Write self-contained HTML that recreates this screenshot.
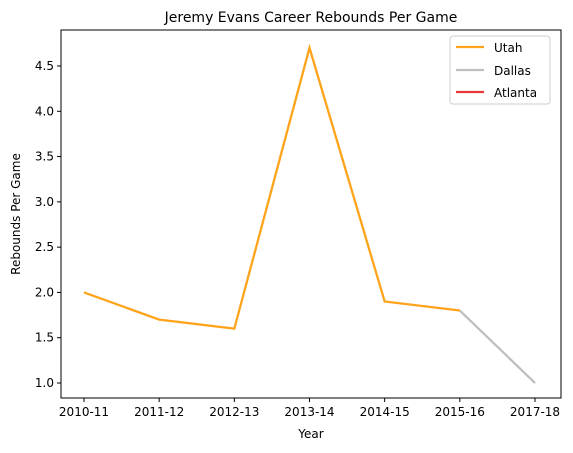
<!DOCTYPE html>
<html><head><meta charset="utf-8"><style>
body{margin:0;background:#fff;}
svg{display:block;font-family:"DejaVu Sans","Liberation Sans",sans-serif;}
</style></head><body>
<svg id="chart" width="573" height="453">
<text x="311" y="22" text-anchor="middle" font-size="14">Jeremy Evans Career Rebounds Per Game</text>
<text x="311" y="438" text-anchor="middle" font-size="12">Year</text>
<text transform="translate(20,214) rotate(-90)" text-anchor="middle" font-size="12">Rebounds Per Game</text>
<g id="ticks"></g>
<g id="lines"></g>
<rect x="61" y="30" width="500" height="368" fill="none" stroke="#000" stroke-width="1"/>
<g>
<rect x="450" y="36" width="100" height="68" rx="3" fill="#fff" stroke="#ccc"/>
<line x1="456" y1="47" x2="484" y2="47" stroke="#ffa31a" stroke-width="2.3"/>
<text x="494" y="52" font-size="12">Utah</text>
<line x1="456" y1="70" x2="484" y2="70" stroke="#bfbfbf" stroke-width="2.3"/>
<text x="494" y="75" font-size="12">Dallas</text>
<line x1="456" y1="92" x2="484" y2="92" stroke="#e8383d" stroke-width="2.3"/>
<text x="494" y="97" font-size="12">Atlanta</text>
</g>
</svg>
<script>
const years = ["2010-11","2011-12","2012-13","2013-14","2014-15","2015-16","2017-18"];
const utahValues = [2.0,1.7,1.6,4.7,1.9,1.8,null];
const dallasValues = [null,null,null,null,null,1.8,1.0];
const atlantaValues = [null,null,null,null,null,null,null];
const yTicks = [1.0,1.5,2.0,2.5,3.0,3.5,4.0,4.5];
const NS="http://www.w3.org/2000/svg";
function xs(i){return 84+i*(535-84)/(years.length-1);}
function ys(v){return 383-(v-1.0)*(383-66)/3.5;}
const tg=document.getElementById('ticks');
years.forEach((y,i)=>{
 const l=document.createElementNS(NS,'line');
 l.setAttribute('x1',xs(i));l.setAttribute('x2',xs(i));l.setAttribute('y1',398);l.setAttribute('y2',402);l.setAttribute('stroke','#000');
 
 
 tg.appendChild(l);
 const t=document.createElementNS(NS,'text');
 t.setAttribute('x',xs(i));t.setAttribute('y',416);t.setAttribute('text-anchor','middle');t.setAttribute('font-size','12');t.textContent=y;
 
 
 tg.appendChild(t);
});
yTicks.forEach(v=>{
 const l=document.createElementNS(NS,'line');
 l.setAttribute('x1',57);l.setAttribute('x2',61);l.setAttribute('y1',ys(v));l.setAttribute('y2',ys(v));l.setAttribute('stroke','#000');
 
 
 tg.appendChild(l);
 const t=document.createElementNS(NS,'text');
 t.setAttribute('x',54);t.setAttribute('y',ys(v)+4);t.setAttribute('text-anchor','end');t.setAttribute('font-size','12');t.textContent=v.toFixed(1);
 
 
 tg.appendChild(t);
});
const lg=document.getElementById('lines');
function draw(vals,color,name){
 const pts=[];vals.forEach((v,i)=>{if(v!==null)pts.push(xs(i)+','+ys(v));});
 if(pts.length<2)return;
 const p=document.createElementNS(NS,'polyline');
 p.setAttribute('points',pts.join(' '));p.setAttribute('fill','none');p.setAttribute('stroke',color);p.setAttribute('stroke-width','2.3');
 
 
 lg.appendChild(p);
}
draw(dallasValues,'#bfbfbf','dallas-line');
draw(atlantaValues,'#e8383d','atlanta-line');
draw(utahValues,'#ffa31a','utah-line');
</script>
</body></html>
